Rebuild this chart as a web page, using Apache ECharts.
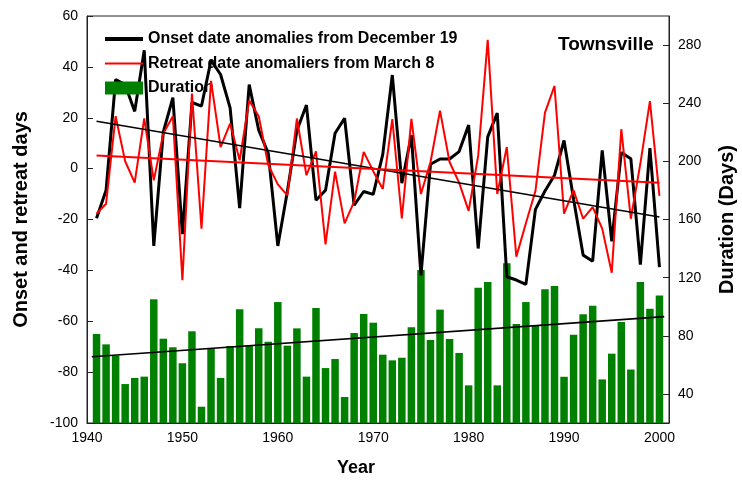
<!DOCTYPE html>
<html><head><meta charset="utf-8">
<script src="https://cdn.jsdelivr.net/npm/echarts@6/dist/echarts.min.js"></script>
<style>html,body{margin:0;padding:0;background:#fff}#c{width:742px;height:487px}</style>
</head><body><div id="c"></div>
<script>
const years = [1941,1942,1943,1944,1945,1946,1947,1948,1949,1950,
  1951,1952,1953,1954,1955,1956,1957,1958,1959,1960,
  1961,1962,1963,1964,1965,1966,1967,1968,1969,1970,
  1971,1972,1973,1974,1975,1976,1977,1978,1979,1980,
  1981,1982,1983,1984,1985,1986,1987,1988,1989,1990,
  1991,1992,1993,1994,1995,1996,1997,1998,1999,2000];
const onset = [-19.5,-8.5,35,33,22.5,46.5,-30.4,14.4,27.9,-25.8,
  26,24.6,42.6,37,23.9,-15.5,33,15.1,6,-30.4,
  -9,15,25,-12.4,-8.5,13.9,19.8,-14.4,-9,-10.1,
  5.6,36.8,-5.7,13.2,-42,1.7,3.8,3.8,6.7,17.1,
  -31.4,12.5,21.8,-42.5,-43.8,-45.5,-16,-8.8,-2.6,11.1,
  -12,-34,-36.4,7.2,-28.6,6.3,3.9,-37.7,8.1,-38.7];
const retreat = [-17.7,-13.8,20.6,2.9,-5.5,19.7,-4.6,13.8,20.6,-43.9,
  29.5,-23.6,34.5,8.5,17.7,3.3,26.8,20.6,1.4,-6.2,
  -10.5,19.7,-2.6,6.8,-29.8,-1.2,-21.5,-13,6.6,-1,
  -8,19.5,-19.6,19.6,-10,2.5,22.8,2.6,-5.5,-16.6,
  5,50.6,-10,8.5,-34.6,-21.5,-8.8,22,32.5,-17.7,
  -8.5,-19.7,-15.1,-23.6,-40.9,15.5,-19.7,2,26.5,-10.7];
const duration = [81.2,74.1,66.3,46.8,51,51.9,105.1,78,72.1,61.1,
  83.1,31.2,71.1,51,73,98.2,73.2,85.1,75.9,103.2,
  73.2,85.1,51.9,99.1,57.8,64,37.9,81.9,95,89,
  67,63.1,64.9,85.8,125.3,77.1,98,77.8,68.2,45.9,
  113.1,117,45.9,129.9,88.1,103.2,87.4,112,114.3,51.8,
  80.7,94.8,100.7,50,67.7,89.5,56.8,117,98.6,107.7];
const onsetTrend = [[1941,18.6],[2000,-19]];
const retreatTrend = [[1941,5.2],[2000,-5.6]];
const durationTrend = [[1940.5,65.6],[2000.5,93.2]];
const xTicks = [1940,1950,1960,1970,1980,1990,2000];
const rightTicks = [40,80,120,160,200,240,280];

const FONT = '"Liberation Sans", Arial, sans-serif';
const pair = arr => years.map((y,i)=>[y,arr[i]]);
const names = ['Onset date anomalies from December 19','Retreat date anomaliers from March 8','Duration'];
const hidden = {color:'rgba(0,0,0,0)', borderWidth:0, opacity:0};

const chart = echarts.init(document.getElementById('c'), null, {renderer:'canvas'});
chart.setOption({
  animation:false,
  backgroundColor:'#fff',
  textStyle:{fontFamily:FONT},
  title:{text:'Townsville', left:553, top:30, textStyle:{fontSize:19, fontWeight:'bold', color:'#000', fontFamily:FONT}},
  grid:{left:87, right:73, top:16, bottom:64, show:true, borderColor:'#222', borderWidth:1,
        backgroundColor:'transparent', outerBoundsMode:'none', containLabel:false},
  legend:{
    orient:'vertical', left:98, top:26, itemWidth:38, itemHeight:13, itemGap:8.5,
    textStyle:{fontSize:16, fontWeight:'bold', color:'#000', fontFamily:FONT},
    data:[
      {name:names[0], itemStyle:hidden, lineStyle:{width:4, color:'#000'}},
      {name:names[1], itemStyle:hidden, lineStyle:{width:2, color:'#ff0000'}},
      {name:names[2], icon:'rect'}
    ]
  },
  xAxis:{
    type:'value', min:1940, max:2001,
    name:'Year', nameLocation:'middle', nameGap:36,
    nameTextStyle:{fontSize:18, fontWeight:'bold', color:'#000', fontFamily:FONT, padding:[0,44,0,0]},
    axisLine:{show:true, onZero:false, lineStyle:{color:'#222', width:1}},
    axisTick:{show:true, inside:true, length:4, customValues:xTicks, lineStyle:{color:'#222'}},
    axisLabel:{customValues:xTicks, fontSize:14, color:'#000', margin:8, fontFamily:FONT, formatter:v=>String(v)},
    splitLine:{show:false}
  },
  yAxis:[{
    type:'value', min:-100, max:60, interval:20,
    name:'Onset and retreat days', nameLocation:'middle', nameGap:56,
    nameTextStyle:{fontSize:20, fontWeight:'bold', color:'#000', fontFamily:FONT},
    axisLine:{show:true, onZero:false, lineStyle:{color:'#222', width:1}},
    axisTick:{show:true, inside:true, length:6, lineStyle:{color:'#222'}},
    axisLabel:{fontSize:14, color:'#000', margin:9, fontFamily:FONT},
    splitLine:{show:false}
  },{
    type:'value', min:20, max:300, position:'right',
    name:'Duration (Days)', nameLocation:'middle', nameGap:48, nameRotate:90,
    nameTextStyle:{fontSize:20, fontWeight:'bold', color:'#000', fontFamily:FONT},
    axisLine:{show:true, onZero:false, lineStyle:{color:'#222', width:1}},
    axisTick:{show:true, inside:true, length:6, customValues:rightTicks, lineStyle:{color:'#222'}},
    axisLabel:{customValues:rightTicks, fontSize:14, color:'#000', margin:9, fontFamily:FONT},
    splitLine:{show:false}
  }],
  series:[
    {name:names[2], type:'bar', yAxisIndex:1, data:pair(duration), barWidth:7.5,
     itemStyle:{color:'#008000'}, z:1},
    {name:'durTrend', type:'line', yAxisIndex:1, data:durationTrend, symbol:'none',
     lineStyle:{color:'#000', width:1.6}, z:2},
    {name:names[0], type:'line', data:pair(onset), symbol:'none', showSymbol:false,
     lineStyle:{color:'#000', width:3}, itemStyle:{color:'#000'}, z:3},
    {name:names[1], type:'line', data:pair(retreat), symbol:'none', showSymbol:false,
     lineStyle:{color:'#ff0000', width:2}, itemStyle:{color:'#ff0000'}, z:4},
    {name:'onsetTrend', type:'line', data:onsetTrend, symbol:'none',
     lineStyle:{color:'#000', width:1.6}, z:5},
    {name:'retreatTrend', type:'line', data:retreatTrend, symbol:'none',
     lineStyle:{color:'#ff0000', width:2}, z:5}
  ]
});
</script></body></html>
